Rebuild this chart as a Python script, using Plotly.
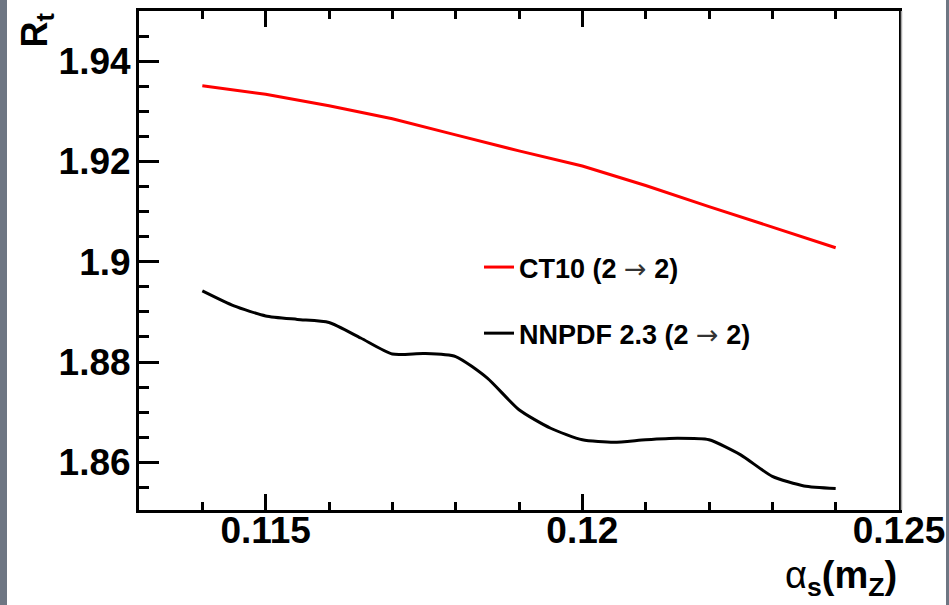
import plotly.graph_objects as go

# alpha_s(m_Z) scan points
alphas_ct10 = [0.114, 0.115, 0.116, 0.117, 0.118, 0.119, 0.120, 0.121, 0.122, 0.123, 0.124]
rt_ct10 = [1.9351, 1.9334, 1.9311, 1.9285, 1.9253, 1.9221, 1.9191, 1.9152, 1.9110, 1.9069, 1.9028]

alphas_nnpdf = [0.1140, 0.1145, 0.1150, 0.1155, 0.1160, 0.1165, 0.1170, 0.1175, 0.1180,
                0.1185, 0.1190, 0.1195, 0.1200, 0.1205, 0.1210, 0.1215, 0.1220, 0.1225,
                0.1230, 0.1235, 0.1240]
rt_nnpdf = [1.8942, 1.8912, 1.8892, 1.8885, 1.8879, 1.8848, 1.8816, 1.8817, 1.8811,
            1.8768, 1.8705, 1.8668, 1.8645, 1.8640, 1.8645, 1.8648, 1.8645, 1.8615,
            1.8572, 1.8553, 1.8548]

ARROW = '<span style="font-family:DejaVu Sans;font-weight:normal;color:#333">\u2192</span>'
series_names = ["CT10 (2 " + ARROW + " 2)", "NNPDF 2.3 (2 " + ARROW + " 2)"]

W, H = 949, 605
L, R, T, B = 139, 50, 11, 95
PW = W - L - R
PH = H - T - B

FONT = "Liberation Sans"

fig = go.Figure()
fig.add_trace(go.Scatter(
    x=alphas_ct10, y=rt_ct10, mode="lines", name=series_names[0],
    line=dict(color="#ff0000", width=3), legendgroup="a"))
fig.add_trace(go.Scatter(
    x=alphas_nnpdf, y=rt_nnpdf, mode="lines", name=series_names[1],
    line=dict(color="#000000", width=3, shape="spline", smoothing=0.6), legendgroup="b"))

axis_common = dict(
    showgrid=False, zeroline=False, ticks="inside", showline=True,
    linecolor="black", linewidth=3, tickcolor="black", tickwidth=3,
    tickfont=dict(family=FONT, size=37, color="black", weight="bold"),
    automargin=False,
)

fig.update_xaxes(
    **axis_common, range=[0.113, 0.125], tick0=0.115, dtick=0.005, ticklen=16,
    mirror="ticks", ticklabelstandoff=-14,
    minor=dict(dtick=0.001, tick0=0.113, ticks="inside", ticklen=8,
               tickwidth=3, tickcolor="black", showgrid=False),
)
fig.update_yaxes(
    **axis_common, range=[1.8505, 1.95], tick0=1.86, dtick=0.02, ticklen=20,
    mirror=True, ticklabelstandoff=-2,
    minor=dict(dtick=0.005, tick0=1.86, ticks="inside", ticklen=10,
               tickwidth=3, tickcolor="black", showgrid=False),
)

def px(xpix):
    return (xpix - L) / PW

def py(ypix):
    return 1 - (ypix - T) / PH

shapes = [
    # canvas side strips
    dict(type="rect", xref="paper", yref="paper", x0=px(0), x1=px(7), y0=-1, y1=2,
         fillcolor="rgb(110,118,131)", line=dict(width=0), layer="above"),
    dict(type="rect", xref="paper", yref="paper", x0=px(946), x1=px(960), y0=-1, y1=2,
         fillcolor="rgb(110,118,131)", line=dict(width=0), layer="above"),
    # frame shadow
    dict(type="line", xref="paper", yref="paper", x0=px(901.5), x1=px(901.5), y0=0, y1=1,
         line=dict(color="rgb(170,170,170)", width=1.5)),
]

annotations = [
    dict(text="<b>R<sub>t</sub></b>", xref="paper", yref="paper",
         x=px(36), y=1.0, xanchor="center", yanchor="top", textangle=-90,
         showarrow=False, font=dict(family=FONT, size=36, color="black")),
    dict(text="\u03b1<b><sub>s</sub>(m<sub>Z</sub>)</b>", xref="paper", yref="paper",
         x=1.0, y=py(578), xanchor="right", yanchor="middle",
         showarrow=False, font=dict(family=FONT, size=38, color="black")),
]

fig.update_layout(
    width=W, height=H,
    margin=dict(l=L, r=R, t=T, b=B, pad=0),
    paper_bgcolor="white", plot_bgcolor="white",
    showlegend=True,
    legend=dict(
        x=px(479), y=py(243), xanchor="left", yanchor="top",
        font=dict(family=FONT, size=27, color="black", weight="bold"),
        bgcolor="rgba(0,0,0,0)", borderwidth=0, tracegroupgap=28,
        itemwidth=30,
    ),
    shapes=shapes, annotations=annotations,
)

fig.write_html("out.html")
